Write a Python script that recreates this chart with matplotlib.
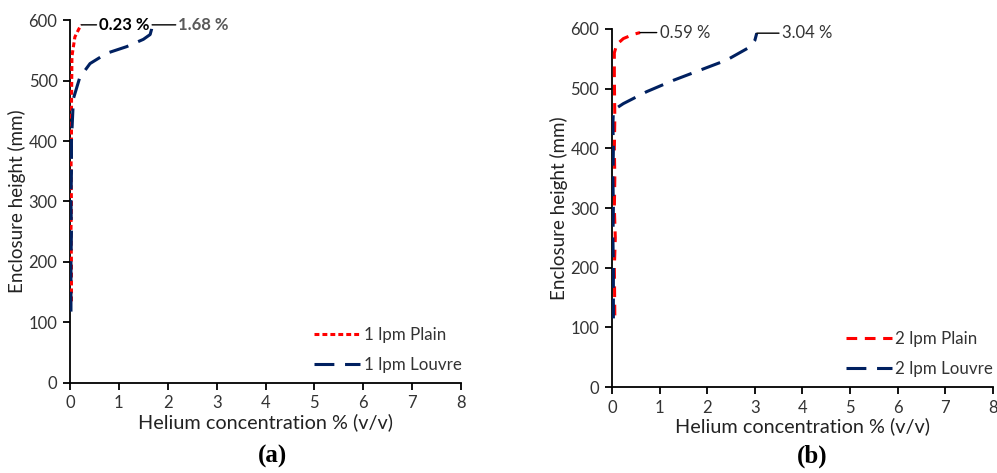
import matplotlib
matplotlib.use("Agg")
import matplotlib.pyplot as plt

# ---------------- data ----------------
# Panel (a) 1 lpm
a_plain_x = [0.03, 0.03, 0.02, 0.03, 0.02, 0.03, 0.03, 0.04, 0.10, 0.18, 0.23]
a_plain_h = [135, 200, 250, 300, 350, 400, 450, 540, 572, 585, 592]
a_louvre_x = [0.02, 0.02, 0.03, 0.02, 0.03, 0.03, 0.07, 0.20, 0.41, 0.75, 1.16, 1.50, 1.64, 1.67, 1.68]
a_louvre_h = [118, 200, 250, 300, 350, 400, 470, 505, 528, 545, 556, 568, 576, 585, 592]

# Panel (b) 2 lpm
b_plain_x = [0.06, 0.05, 0.07, 0.05, 0.06, 0.05, 0.06, 0.05, 0.05, 0.10, 0.24, 0.45, 0.59]
b_plain_h = [120, 200, 250, 300, 350, 400, 450, 520, 560, 574, 584, 591, 594]
b_louvre_x = [0.03, 0.03, 0.02, 0.03, 0.02, 0.03, 0.02, 0.03, 0.24, 0.73, 1.29, 1.85, 2.41, 2.90, 3.00, 3.04]
b_louvre_h = [115, 200, 250, 300, 350, 400, 440, 464, 475, 495, 514, 531, 548, 570, 581, 593]

labels_a = ["1 lpm Plain", "1 lpm Louvre"]
labels_b = ["2 lpm Plain", "2 lpm Louvre"]
x_ticks = [0, 1, 2, 3, 4, 5, 6, 7, 8]
y_ticks = [0, 100, 200, 300, 400, 500, 600]

RED = "#FF0000"
NAVY = "#002060"
FONT = "Lato"

plt.rcParams["font.family"] = [FONT, "DejaVu Sans"]

fig = plt.figure(figsize=(9.97, 4.73), dpi=100)
ax_a = fig.add_axes([0.0702, 0.1903, 0.3922, 0.7674])
ax_b = fig.add_axes([0.6138, 0.1818, 0.3822, 0.7569])


def style(ax):
    for s in ["top", "right"]:
        ax.spines[s].set_visible(False)
    for s in ["left", "bottom"]:
        ax.spines[s].set_color("black")
        ax.spines[s].set_linewidth(1.3)
    ax.set_xlim(0, 8)
    ax.set_ylim(0, 600)
    ax.set_xticks(x_ticks)
    ax.set_yticks(y_ticks)
    ax.tick_params(direction="out", length=5, width=1.3, labelsize=12,
                   colors="black", labelcolor="#333333", pad=4)
    ax.set_xlabel("Helium concentration % (v/v)", fontsize=14.3, color="#222222", labelpad=1)
    ax.set_ylabel("Enclosure height (mm)", fontsize=13.5, color="#222222", labelpad=2)


def add_legend(ax):
    ax.legend(loc="lower right", bbox_to_anchor=(1.04, -0.015), frameon=False, fontsize=12.2,
              handlelength=2.7, handletextpad=0.2, labelspacing=0.85, labelcolor="#333333")


# Panel (a)
ax_a.plot(a_plain_x, a_plain_h, color=RED, lw=2.2, dashes=(1.6, 1.0), label=labels_a[0], zorder=3)
ax_a.plot(a_louvre_x, a_louvre_h, color=NAVY, lw=2.2, dashes=(6.5, 3.5), label=labels_a[1], zorder=3)
style(ax_a)
ax_a.annotate("0.23 %", xy=(a_plain_x[-1], a_plain_h[-1]), xytext=(13, 0), textcoords="offset points",
              fontsize=12, fontweight="bold", color="black", va="center", ha="left",
              arrowprops=dict(arrowstyle="-", color="black", lw=1.0, shrinkA=0, shrinkB=0))
ax_a.annotate("1.68 %", xy=(a_louvre_x[-1], a_louvre_h[-1]), xytext=(19, 0), textcoords="offset points",
              fontsize=12, fontweight="bold", color="#595959", va="center", ha="left",
              arrowprops=dict(arrowstyle="-", color="black", lw=1.0, shrinkA=0, shrinkB=0))
add_legend(ax_a)
fig.text(0.273, 0.035, "(a)", fontsize=18, fontweight="bold", family="Liberation Serif",
         ha="center", va="center")

# Panel (b)
ax_b.plot(b_plain_x, b_plain_h, color=RED, lw=2.2, dashes=(3.5, 2.5), label=labels_b[0], zorder=3)
ax_b.plot(b_louvre_x, b_louvre_h, color=NAVY, lw=2.2, dashes=(6.5, 3.5), label=labels_b[1], zorder=3)
style(ax_b)
ax_b.annotate("0.59 %", xy=(b_plain_x[-1], b_plain_h[-1]), xytext=(14, 0), textcoords="offset points",
              fontsize=12, color="#333333", va="center", ha="left",
              arrowprops=dict(arrowstyle="-", color="black", lw=1.0, shrinkA=0, shrinkB=0))
ax_b.annotate("3.04 %", xy=(b_louvre_x[-1], b_louvre_h[-1]), xytext=(18, 0), textcoords="offset points",
              fontsize=12, color="#333333", va="center", ha="left",
              arrowprops=dict(arrowstyle="-", color="black", lw=1.0, shrinkA=0, shrinkB=0))
add_legend(ax_b)
fig.text(0.815, 0.035, "(b)", fontsize=18, fontweight="bold", family="Liberation Serif",
         ha="center", va="center")

fig.savefig("out.png", dpi=100)
